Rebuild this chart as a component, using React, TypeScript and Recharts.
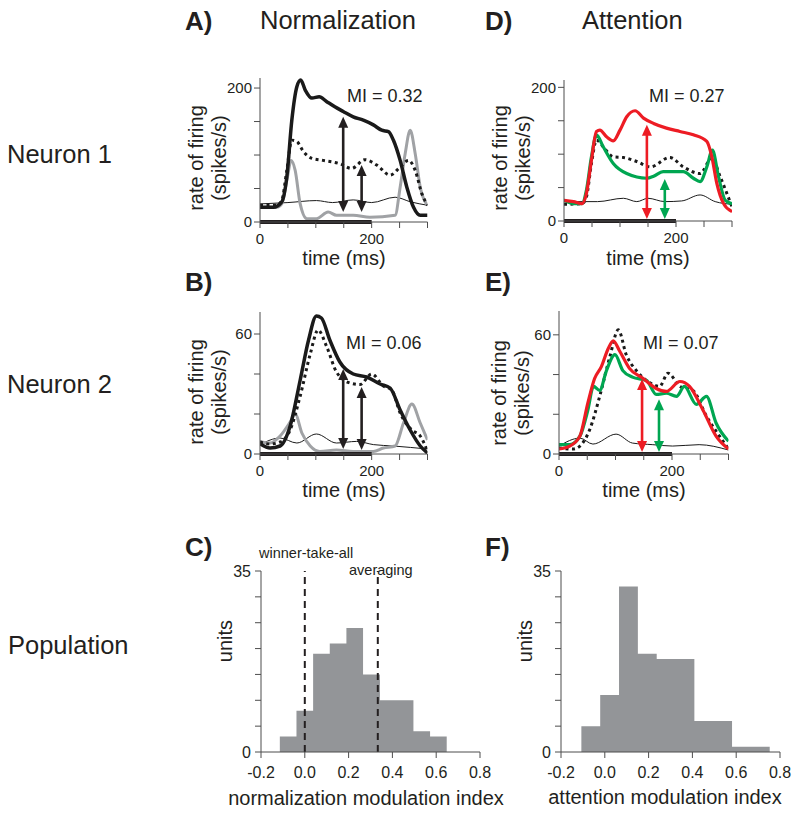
import React from "react";
import { LineChart, Line, XAxis, YAxis, ReferenceLine, AreaChart, Area } from "recharts";

const FONT = '"Liberation Sans", Arial, Helvetica, sans-serif';
const INK = "#231f20";
const AX = "#4d4d4d";
const RED = "#ed1c24";
const GREEN = "#00a651";
const GRAY = "#a0a2a5";
const HIST = "#939598";

type Pt = [number, number];

// ---- time axis ----
const timeTicks = [0, 50, 100, 150, 200, 250, 300];
const timeLabels = [0, 200];
const stimulus = [0, 200];

// ---- Panel A (Neuron 1, normalization) ----
const aPref: Pt[] = [[0,22],[24,22],[39,30],[48,67],[57,152],[66,202],[73,212],[81,197],[93,185],[106,187],[119,180],[134,172],[149,165],[167,157],[185,152],[203,145],[218,137],[230,135],[239,122],[251,92],[263,52],[275,22],[287,10],[300,10]];
const aBoth: Pt[] = [[0,25],[30,25],[39,32],[48,77],[57,122],[66,120],[78,105],[93,95],[113,92],[143,87],[164,80],[188,93],[209,85],[233,70],[251,82],[266,92],[278,77],[290,42],[300,25]];
const aNull: Pt[] = [[0,22],[30,22],[39,27],[48,62],[56,92],[63,77],[72,27],[84,5],[101,5],[122,15],[137,10],[167,10],[197,7],[242,10],[251,52],[260,102],[269,137],[278,102],[287,52],[300,25]];
const aBase: Pt[] = [[0,27],[50,29],[101,32],[130,29],[167,33],[200,29],[242,37],[270,30],[300,25]];
const aArrows = [[149,157,15],[182,85,15]];

// ---- Panel D (Neuron 1, attention) ----
const dAttPref: Pt[] = [[0,31],[17,29],[32,26],[40,41],[49,91],[58,134],[64,136],[76,126],[88,120],[100,136],[112,156],[127,165],[142,154],[160,146],[183,139],[207,134],[231,129],[255,119],[264,96],[273,56],[285,26],[300,14]];
const dAttNull: Pt[] = [[0,31],[19,26],[32,26],[40,46],[49,96],[58,129],[70,111],[88,86],[112,71],[148,64],[160,67],[177,74],[213,74],[231,64],[243,59],[255,81],[265,106],[276,66],[288,31],[300,26]];
const dBoth: Pt[] = [[0,25],[32,26],[40,36],[49,86],[58,121],[70,111],[88,96],[106,95],[130,89],[154,81],[189,95],[213,81],[243,71],[264,94],[279,66],[300,21]];
const dBase: Pt[] = [[0,29],[60,29],[106,34],[130,29],[150,34],[180,29],[210,30],[243,39],[270,29],[300,25]];
const dArrows = [[148,144,3],[180,63,3]];

// ---- Panel B (Neuron 2, normalization) ----
const bPref: Pt[] = [[0,5.2],[18,3],[36,4],[54,14],[72,37],[87,57],[101,69],[110,68],[125,57],[143,46],[167,40],[191,38.5],[215,35],[233,33],[251,22],[269,12],[287,4],[300,0.5]];
const bBoth: Pt[] = [[0,6],[18,5],[36,6],[54,12],[72,29],[90,50],[104,62],[119,54],[137,41],[161,35.5],[179,34.7],[200,40],[221,34],[236,32],[251,20.5],[272,12],[287,9],[300,1.3]];
const bNull: Pt[] = [[0,6.3],[18,5.5],[36,9],[54,16],[63,20],[75,10.5],[90,4],[107,1.3],[137,2],[167,1.3],[203,1.3],[221,3],[242,4],[257,15.5],[272,25],[287,15.5],[300,7]];
const bBase: Pt[] = [[0,4.7],[36,8],[66,5.5],[101,10],[137,5.5],[173,6.3],[203,4.7],[239,4],[300,2.5]];
const bArrows = [[149,42.5,2.5],[182,33.5,2]];

// ---- Panel E (Neuron 2, attention) ----
const eAttPref: Pt[] = [[0,2.5],[19,4],[37,9],[51,25.6],[63,38],[75,44],[87,53],[96,57],[107,52],[125,43],[149,38],[172,33],[190,31.5],[214,36.5],[231,34],[255,22],[278,9],[300,2.5]];
const eAttNull: Pt[] = [[0,4.7],[19,4.7],[37,9],[51,22],[61,34],[72,32],[84,42],[99,50],[113,42],[130,38.7],[155,37],[172,30],[190,30.6],[208,29],[222,34],[243,25],[261,29],[278,15.6],[300,6.4]];
const eBoth: Pt[] = [[0,3],[25,2.5],[37,4],[54,12],[72,29],[90,49],[105,62.5],[119,50],[137,42],[160,36],[178,34],[193,40.7],[214,34],[237,32],[261,19],[284,9],[300,2.5]];
const eBase: Pt[] = [[0,4],[37,8],[60,5],[101,10],[130,5.5],[166,4.7],[201,4],[248,4.7],[300,2]];
const eArrows = [[147,37.7,1],[177,27.6,1]];

// ---- Histograms ----
const miTicks = [-0.2, 0, 0.2, 0.4, 0.6, 0.8];
const unitTicks = [0, 5, 10, 15, 20, 25, 30, 35];
const normEdges = [-0.114, -0.038, 0.038, 0.114, 0.19, 0.266, 0.343, 0.42, 0.496, 0.572, 0.648];
const normCounts = [3, 8, 19, 21, 24, 15, 10, 10, 4, 3];
const attnEdges = [-0.107, -0.021, 0.065, 0.151, 0.237, 0.323, 0.409, 0.495, 0.581, 0.667, 0.753];
const attnCounts = [5, 11, 32, 19, 18, 18, 6, 6, 1, 1];
const normRefs = [0, 1 / 3];

const toData = (pts: Pt[]) => pts.map(([t, v]) => ({ t, v }));
const histData = (edges: number[], counts: number[]) =>
  edges.map((x, i) => ({ x, y: counts[Math.min(i, counts.length - 1)] }));

const makeArrow = (color: string) => (props: any) => {
  const { x1, y1, y2 } = props;
  const x = x1;
  const top = Math.min(y1, y2);
  const bot = Math.max(y1, y2);
  const hw = 5, hh = 11;
  return (
    <g>
      <line x1={x} x2={x} y1={top + hh - 1} y2={bot - hh + 1} stroke={color} strokeWidth={2.6} />
      <polygon points={`${x},${top} ${x - hw},${top + hh} ${x + hw},${top + hh}`} fill={color} />
      <polygon points={`${x},${bot} ${x - hw},${bot - hh} ${x + hw},${bot - hh}`} fill={color} />
    </g>
  );
};

type Series = { data: Pt[]; color: string; width: number; dash?: string };

const ML = 5, YW = 45, MT = 10, MR = 12, XH = 40;

function TracePanel(props: {
  left: number; top: number; width: number; height: number; yMax: number;
  yTicks: number[]; yLabels: number[]; series: Series[]; arrows: number[][]; arrowColors: string[];
}) {
  const { left, top, width, height, yMax, yTicks, yLabels, series, arrows, arrowColors } = props;
  return (
    <div style={{ position: "absolute", left: left - ML - YW, top: top - MT }}>
      <LineChart width={width + ML + YW + MR} height={height + MT + XH} margin={{ top: MT, right: MR, bottom: 0, left: ML }}>
        <XAxis type="number" dataKey="t" domain={[0, 300]} ticks={timeTicks} interval={0} allowDataOverflow height={XH}
          tickFormatter={(v: number) => (timeLabels.includes(v) ? String(v) : "")}
          tick={{ fontSize: 15, fill: INK, fontFamily: FONT }} tickSize={6} tickMargin={5}
          axisLine={{ stroke: AX }} tickLine={{ stroke: AX }} />
        <YAxis type="number" domain={[0, yMax]} ticks={yTicks} interval={0} allowDataOverflow width={YW}
          tickFormatter={(v: number) => (yLabels.includes(v) ? String(v) : "")}
          tick={{ fontSize: 15, fill: INK, fontFamily: FONT }} tickSize={6} tickMargin={2}
          axisLine={{ stroke: AX }} tickLine={{ stroke: AX }} />
        {series.map((s, i) => (
          <Line key={i} data={toData(s.data)} dataKey="v" type="monotone" stroke={s.color} strokeWidth={s.width}
            strokeDasharray={s.dash} dot={false} activeDot={false} isAnimationActive={false} />
        ))}
        <ReferenceLine segment={[{ x: stimulus[0], y: 0 }, { x: stimulus[1], y: 0 }]} stroke={INK} strokeWidth={4} />
        {arrows.map((a, i) => (
          <ReferenceLine key={"ar" + i} segment={[{ x: a[0], y: a[1] }, { x: a[0], y: a[2] }]}
            shape={makeArrow(arrowColors[i])} />
        ))}
      </LineChart>
    </div>
  );
}

function HistPanel(props: { left: number; top: number; width: number; height: number; edges: number[]; counts: number[]; refs: number[] }) {
  const { left, top, width, height, edges, counts, refs } = props;
  return (
    <div style={{ position: "absolute", left: left - ML - YW, top: top - MT }}>
      <AreaChart data={histData(edges, counts)} width={width + ML + YW + MR} height={height + MT + XH}
        margin={{ top: MT, right: MR, bottom: 0, left: ML }}>
        <XAxis type="number" dataKey="x" domain={[-0.2, 0.8]} ticks={miTicks} interval={0} allowDataOverflow height={XH}
          tickFormatter={(v: number) => v.toFixed(1)}
          tick={{ fontSize: 16, fill: INK, fontFamily: FONT }} tickSize={6} tickMargin={9}
          axisLine={{ stroke: AX }} tickLine={{ stroke: AX }} />
        <YAxis type="number" domain={[0, 35]} ticks={unitTicks} interval={0} allowDataOverflow width={YW}
          tickFormatter={(v: number) => (v === 0 || v === 35 ? String(v) : "")}
          tick={{ fontSize: 16, fill: INK, fontFamily: FONT }} tickSize={6} tickMargin={4}
          axisLine={{ stroke: AX }} tickLine={{ stroke: AX }} />
        <Area dataKey="y" type="stepAfter" stroke="none" fill={HIST} fillOpacity={1} isAnimationActive={false} />
        {refs.map((r, i) => (
          <ReferenceLine key={i} x={r} stroke={INK} strokeWidth={2} strokeDasharray="7 5" />
        ))}
      </AreaChart>
    </div>
  );
}

function T(props: { x: number; y: number; size: number; children: React.ReactNode; bold?: boolean; rotate?: boolean; anchor?: "start" | "middle" }) {
  const { x, y, size, children, bold, rotate, anchor = "middle" } = props;
  const tx = anchor === "middle" ? "-50%" : "0";
  return (
    <div style={{
      position: "absolute", left: x, top: y, fontSize: size, fontFamily: FONT, fontWeight: bold ? 700 : 400,
      lineHeight: 1, whiteSpace: "nowrap", color: INK,
      transform: `translate(${tx}, -50%)${rotate ? " rotate(-90deg)" : ""}`,
      transformOrigin: rotate ? "center" : undefined,
    }}>{children}</div>
  );
}

export default function App() {
  const blackSolid = (d: Pt[]): Series => ({ data: d, color: "#1a1a1a", width: 3.5 });
  const dotted = (d: Pt[]): Series => ({ data: d, color: "#1a1a1a", width: 3, dash: "3 3.5" });
  const thin = (d: Pt[]): Series => ({ data: d, color: "#1a1a1a", width: 1 });
  const grayS = (d: Pt[]): Series => ({ data: d, color: GRAY, width: 3 });
  const redS = (d: Pt[]): Series => ({ data: d, color: RED, width: 3.2 });
  const greenS = (d: Pt[]): Series => ({ data: d, color: GREEN, width: 3.2 });

  return (
    <div style={{ position: "absolute", left: 0, top: 0, width: 800, height: 813, background: "#fff", overflow: "hidden", fontFamily: FONT }}>
      {/* column titles */}
      <T x={185} y={21} size={26} bold anchor="start">A)</T>
      <T x={260} y={21} size={25.5} anchor="start">Normalization</T>
      <T x={485} y={21} size={26} bold anchor="start">D)</T>
      <T x={582} y={21} size={25.5} anchor="start">Attention</T>

      {/* row labels */}
      <T x={7} y={155} size={25.5} anchor="start">Neuron 1</T>
      <T x={7} y={385} size={25.5} anchor="start">Neuron 2</T>
      <T x={8} y={646} size={25.5} anchor="start">Population</T>

      {/* panel letters */}
      <T x={185} y={282} size={26} bold anchor="start">B)</T>
      <T x={485} y={282} size={26} bold anchor="start">E)</T>
      <T x={185} y={547} size={26} bold anchor="start">C)</T>
      <T x={485} y={547} size={26} bold anchor="start">F)</T>

      {/* Panel A */}
      <TracePanel left={260} top={78} width={167.5} height={144} yMax={215} yTicks={[0, 50, 100, 150, 200]} yLabels={[0, 200]}
        series={[thin(aBase), grayS(aNull), dotted(aBoth), blackSolid(aPref)]} arrows={aArrows} arrowColors={[INK, INK]} />
      <T x={196} y={158} size={20} rotate>rate of firing</T>
      <T x={219} y={158} size={20} rotate>(spikes/s)</T>
      <T x={344} y={258} size={20}>time (ms)</T>
      <T x={347} y={96} size={18} anchor="start">MI = 0.32</T>

      {/* Panel D */}
      <TracePanel left={564} top={80} width={168} height={141} yMax={211} yTicks={[0, 50, 100, 150, 200]} yLabels={[0, 200]}
        series={[thin(dBase), dotted(dBoth), greenS(dAttNull), redS(dAttPref)]} arrows={dArrows} arrowColors={[RED, GREEN]} />
      <T x={500} y={158} size={20} rotate>rate of firing</T>
      <T x={523} y={158} size={20} rotate>(spikes/s)</T>
      <T x={648} y={258} size={20}>time (ms)</T>
      <T x={649} y={96} size={18} anchor="start">MI = 0.27</T>

      {/* Panel B */}
      <TracePanel left={260} top={312} width={167.5} height={142} yMax={71} yTicks={[0, 20, 40, 60]} yLabels={[0, 60]}
        series={[thin(bBase), grayS(bNull), dotted(bBoth), blackSolid(bPref)]} arrows={bArrows} arrowColors={[INK, INK]} />
      <T x={196} y={392} size={20} rotate>rate of firing</T>
      <T x={219} y={392} size={20} rotate>(spikes/s)</T>
      <T x={344} y={490} size={20}>time (ms)</T>
      <T x={346} y={343} size={18} anchor="start">MI = 0.06</T>

      {/* Panel E */}
      <TracePanel left={559} top={311} width={169.5} height={143} yMax={72} yTicks={[0, 20, 40, 60]} yLabels={[0, 60]}
        series={[thin(eBase), dotted(eBoth), greenS(eAttNull), redS(eAttPref)]} arrows={eArrows} arrowColors={[RED, GREEN]} />
      <T x={499} y={393} size={20} rotate>rate of firing</T>
      <T x={522} y={393} size={20} rotate>(spikes/s)</T>
      <T x={644} y={490} size={20}>time (ms)</T>
      <T x={643} y={343} size={18} anchor="start">MI = 0.07</T>

      {/* Panel C */}
      <HistPanel left={261} top={571} width={219} height={181} edges={normEdges} counts={normCounts} refs={normRefs} />
      <T x={225} y={641} size={20} rotate>units</T>
      <T x={366} y={798} size={20}>normalization modulation index</T>
      <T x={259} y={553} size={14.5} anchor="start">winner-take-all</T>
      <T x={349} y={570} size={14.5} anchor="start">averaging</T>

      {/* Panel F */}
      <HistPanel left={561} top={571} width={219} height={181} edges={attnEdges} counts={attnCounts} refs={[]} />
      <T x={525} y={641} size={20} rotate>units</T>
      <T x={665} y={797} size={20}>attention modulation index</T>
    </div>
  );
}
